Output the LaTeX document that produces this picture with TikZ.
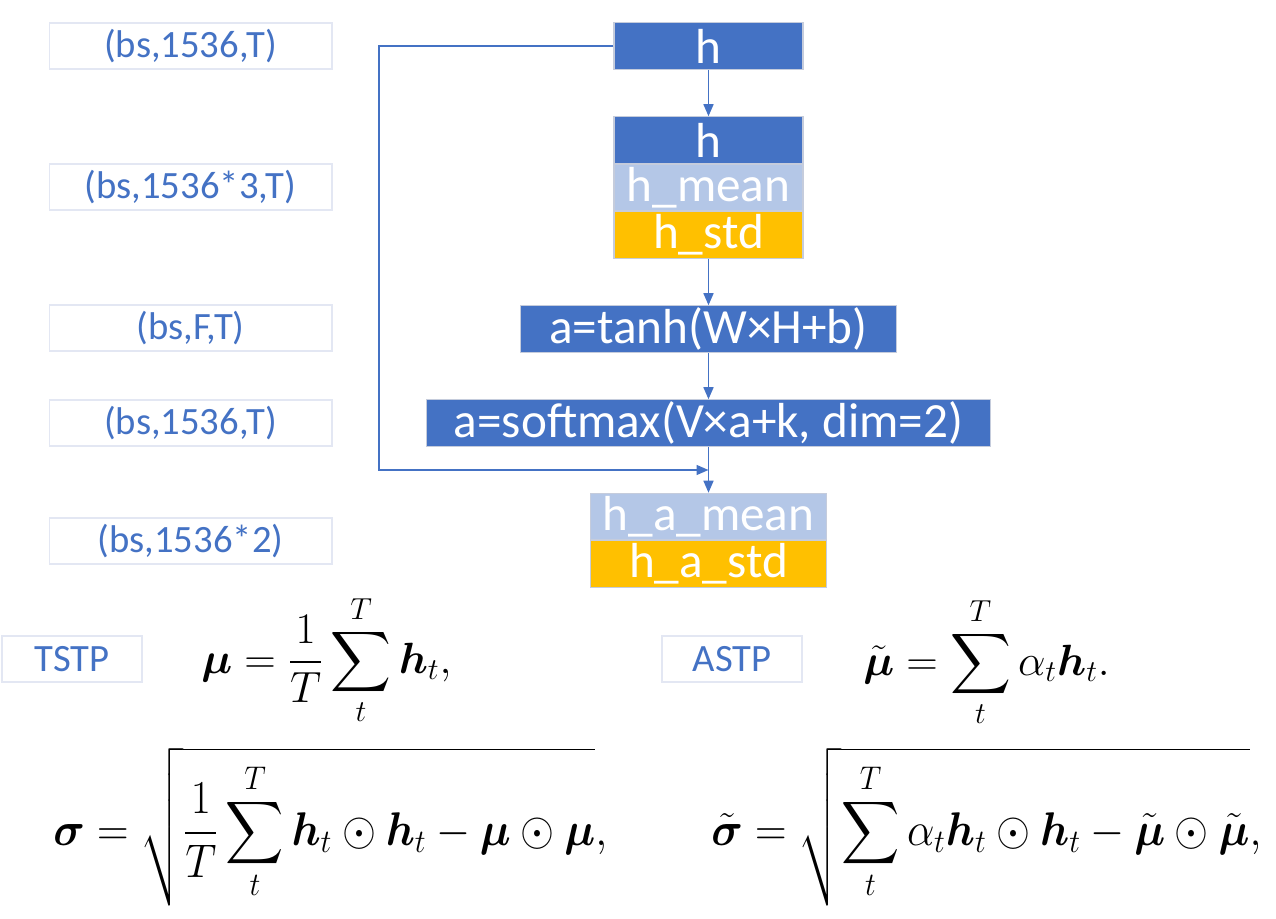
\documentclass[tikz,border=0pt]{standalone}
\usepackage{amsmath}
\usepackage{amssymb}
\usepackage{graphicx}
\usepackage{fontspec}
\setsansfont{Carlito}
\usetikzlibrary{arrows.meta,positioning}
\definecolor{boxblue}{HTML}{4472C4}
\definecolor{boxlight}{HTML}{B4C7E7}
\definecolor{boxgold}{HTML}{FFC000}
\definecolor{boxedge}{HTML}{C5CCDC}
\definecolor{tagedge}{HTML}{E3E7F3}
\newcommand{\tallmath}[1]{\scalebox{1}[1.08]{#1}}

\begin{document}
\begin{tikzpicture}
  [x=0.02cm, y=-0.02cm,
   tagbox/.style = {draw=tagedge, line width=0.6pt, inner sep=0pt, text=boxblue,
     minimum width=5.66cm, minimum height=0.92cm, font=\fontsize{22}{26}\sffamily\selectfont},
   layer/.style = {draw=boxedge, line width=0.6pt, inner sep=0pt, text=white,
     minimum height=0.93cm, font=\fontsize{28}{32}\sffamily\selectfont},
   bluebox/.style = {layer, fill=boxblue},
   lightbox/.style = {layer, fill=boxlight},
   goldbox/.style = {layer, fill=boxgold},
   flow/.style = {draw=boxblue, line width=0.85pt, -{Triangle[length=0.24cm, width=0.2cm]}},
   formula/.style = {inner sep=0pt, anchor=base west, font=\fontsize{24}{28}\selectfont},
   rootformula/.style = {formula, font=\fontsize{23}{28}\selectfont}]
  \useasboundingbox (0,0) rectangle (1276,919);
  % shapes on the left
  \node (shp1) [tagbox] at (190.5,46) {(bs,1536,T)};
  \node (shp2) [tagbox] at (190.5,187) {(bs,1536*3,T)};
  \node (shp3) [tagbox] at (190.5,328) {(bs,F,T)};
  \node (shp4) [tagbox] at (190.5,423) {(bs,1536,T)};
  \node (shp5) [tagbox] at (190.5,541) {(bs,1536*2)};
  \node (tstp) [tagbox, minimum width=2.8cm] at (72,659) {TSTP};
  \node (astp) [tagbox, minimum width=2.8cm] at (732,659) {ASTP};
  % pooling blocks
  \node (h) [bluebox, minimum width=3.78cm] at (708.5,46) {h};
  \node (hcat) [bluebox, minimum width=3.78cm] at (708.5,140) {h};
  \node (hmean) [lightbox, minimum width=3.78cm, below=0pt of hcat] {h\_mean};
  \node (hstd) [goldbox, minimum width=3.78cm, below=0pt of hmean] {h\_std};
  \node (tanh) [bluebox, minimum width=7.54cm] at (708.5,329) {a=tanh(W×H+b)};
  \node (soft) [bluebox, minimum width=11.3cm] at (708.5,423) {a=softmax(V×a+k, dim=2)};
  \node (hamean) [lightbox, minimum width=4.72cm] at (708.5,516.5) {h\_a\_mean};
  \node (hastd) [goldbox, minimum width=4.72cm, below=0pt of hamean] {h\_a\_std};
  \coordinate (loop) at (379,470);
  \coordinate (merge) at (708.5,470);
  \draw [flow] (h) -- (hcat);
  \draw [flow] (hstd) -- (tanh);
  \draw [flow] (tanh) -- (soft);
  \draw [flow] (soft) -- (hamean);
  \draw [flow] (h.west) -| (loop) -- (merge);
  % formulas
  \node (mu) [formula] at (201,673)
    {$\displaystyle \boldsymbol{\mu} = \frac{1}{T}\sum_{t}^{T}\boldsymbol{h}_t,$};
  \node (mut) [formula] at (863,675)
    {$\displaystyle \tilde{\boldsymbol{\mu}} = \sum_{t}^{T}\alpha_t\boldsymbol{h}_t.$};
  \node (sig) [rootformula] at (53,845)
    {\tallmath{$\displaystyle \boldsymbol{\sigma} = \sqrt{\frac{1}{T}\sum_{t}^{T}\boldsymbol{h}_t\odot\boldsymbol{h}_t - \boldsymbol{\mu}\odot\boldsymbol{\mu}},$}};
  \node (sigt) [rootformula] at (711,845)
    {\tallmath{$\displaystyle \tilde{\boldsymbol{\sigma}} = \sqrt{\sum_{t}^{T}\alpha_t\boldsymbol{h}_t\odot\boldsymbol{h}_t - \tilde{\boldsymbol{\mu}}\odot\tilde{\boldsymbol{\mu}}},$}};
\end{tikzpicture}
\end{document}
